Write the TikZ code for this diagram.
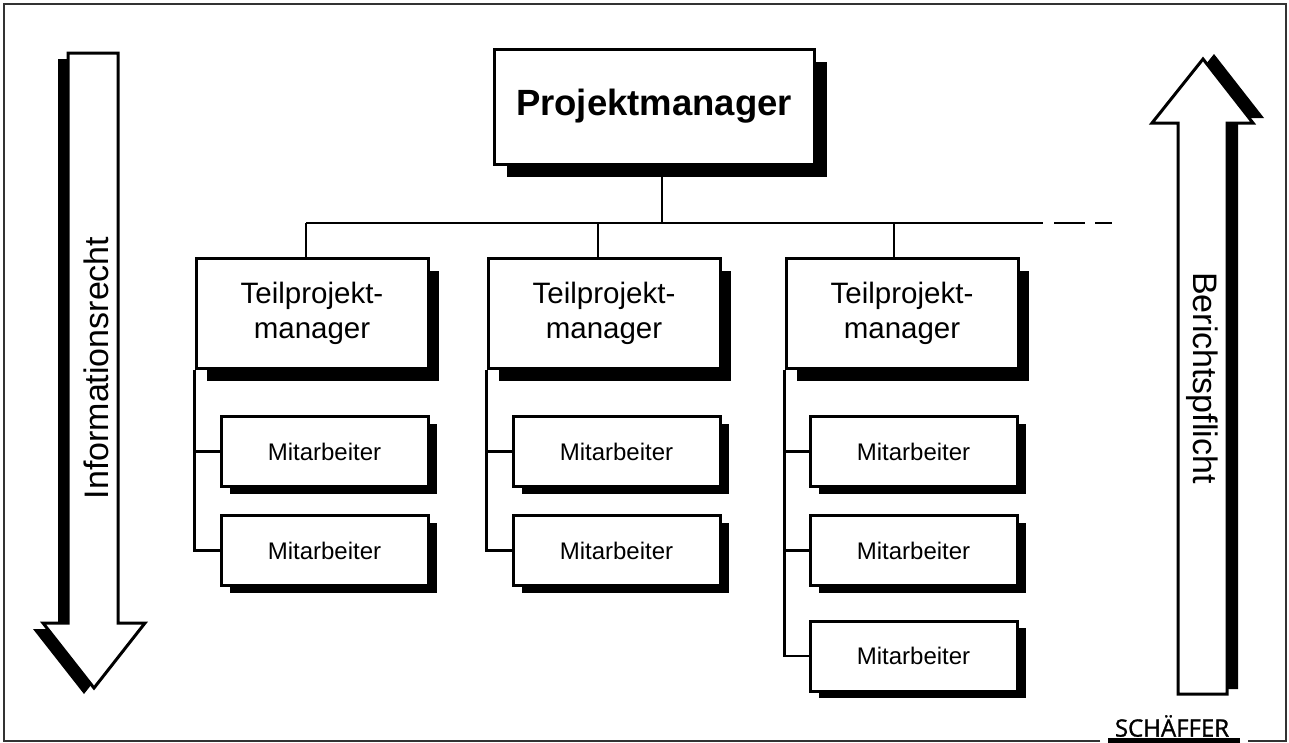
\documentclass[tikz,border=0pt]{standalone}
\usepackage{fontspec}
\setmainfont{Liberation Sans}
\newfontfamily\logofont[FakeBold=1.2]{Open Sans}
\usetikzlibrary{shadows,calc}
\usepackage{color}
\definecolor{framegray}{rgb}{0.2,0.2,0.2}

\begin{document}
\begin{tikzpicture}
      [x = 1pt, y = -1pt,
      box/.style= {
         draw,
         fill = white,
         line width = 3,
         inner sep = 0pt,
         align = center
      },
      chief/.style= {
         box,
         minimum width = 320pt,
         minimum height = 115pt,
         font = \fontsize{36.5}{42}\selectfont\bfseries,
         general shadow = {fill = black, shadow xshift = 13pt, shadow yshift = -13pt}
      },
      lead/.style= {
         box,
         minimum width = 232pt,
         minimum height = 110pt,
         font = \fontsize{29.5}{35}\selectfont,
         general shadow = {fill = black, shadow xshift = 11pt, shadow yshift = -13pt}
      },
      staff/.style= {
         box,
         minimum width = 207pt,
         minimum height = 70pt,
         font = \fontsize{24}{28}\selectfont,
         general shadow = {fill = black, shadow xshift = 9pt, shadow yshift = -7pt}
      },
      link/.style = {line width = 2.5},
      tail/.style = {line width = 2.5, dash pattern = on 17pt off 11pt on 31pt off 10pt},
      bigarrow/.style = {draw, fill = white, line width = 3, line join = miter},
      sidelabel/.style = {font = \fontsize{34}{40}\selectfont},
      frame/.style = {draw = framegray, line width = 2}]

      \useasboundingbox (0, 0) rectangle (1289, 742);

      % outer frame, open at the bottom for the imprint
      \draw[frame] (1100, 741) -- (4, 741) -- (4, 4) -- (1286, 4) -- (1286, 741) -- (1248, 741);
      \node[font = \logofont\fontsize{24}{28}\selectfont] (logo) at (1172, 726) {SCHÄFFER};
      \draw[line width = 6] (1108, 741) -- (1240, 741);

      % left arrow, pointing down
      \fill[shift = {(-10, 6)}] (68, 53) -- (118, 53) -- (118, 623) -- (145, 623)
         -- (94, 688) -- (43, 623) -- (68, 623) -- cycle;
      \draw[bigarrow] (68, 53) -- (118, 53) -- (118, 623) -- (145, 623)
         -- (94, 688) -- (43, 623) -- (68, 623) -- cycle;
      \node[sidelabel, rotate = 90] (info) at (96, 368) {Informationsrecht};

      % right arrow, pointing up
      \fill[shift = {(11, -5)}] (1178, 694) -- (1178, 123) -- (1152, 123) -- (1203, 59)
         -- (1253, 123) -- (1227, 123) -- (1227, 694) -- cycle;
      \draw[bigarrow] (1178, 694) -- (1178, 123) -- (1152, 123) -- (1203, 59)
         -- (1253, 123) -- (1227, 123) -- (1227, 694) -- cycle;
      \node[sidelabel, rotate = -90] (report) at (1202, 378) {Berichtspflicht};

      % boxes
      \node[chief] (pm) at (654, 106.5) {Projektmanager};

      \node[lead] (tp1) at (312, 313) {Teilprojekt-\\manager};
      \node[lead] (tp2) at (604, 313) {Teilprojekt-\\manager};
      \node[lead] (tp3) at (902, 313) {Teilprojekt-\\manager};

      \node[staff] (m11) at (324.5, 451.5) {Mitarbeiter};
      \node[staff] (m12) at (324.5, 550.5) {Mitarbeiter};
      \node[staff] (m21) at (616.5, 451.5) {Mitarbeiter};
      \node[staff] (m22) at (616.5, 550.5) {Mitarbeiter};
      \node[staff] (m31) at (913.5, 451.5) {Mitarbeiter};
      \node[staff] (m32) at (913.5, 550.5) {Mitarbeiter};
      \node[staff] (m33) at (913.5, 656) {Mitarbeiter};

      % tree lines, the drops sit a little left of the box centres
      \coordinate (bus) at (662, 223);
      \coordinate (busR) at (1026, 223);
      \coordinate (busEnd) at (1115, 223);
      \coordinate (drop1) at ($(tp1.north) + (-6, 0)$);
      \coordinate (drop2) at ($(tp2.north) + (-6, 0)$);
      \coordinate (drop3) at ($(tp3.north) + (-8, 0)$);

      \draw[link] (pm.south -| bus) -- (bus);
      \draw[link] (drop1 |- bus) -- (busR);
      \draw[tail] (busR) -- (busEnd);
      \draw[link] (drop1) -- (drop1 |- bus);
      \draw[link] (drop2) -- (drop2 |- bus);
      \draw[link] (drop3) -- (drop3 |- bus);

      \draw[link] (tp1.south west) |- (m11.west);
      \draw[link] (tp1.south west) |- (m12.west);
      \draw[link] (tp2.south west) |- (m21.west);
      \draw[link] (tp2.south west) |- (m22.west);
      \draw[link] (tp3.south west) |- (m31.west);
      \draw[link] (tp3.south west) |- (m32.west);
      \draw[link] (tp3.south west) |- (m33.west);

   \end{tikzpicture}
\end{document}
